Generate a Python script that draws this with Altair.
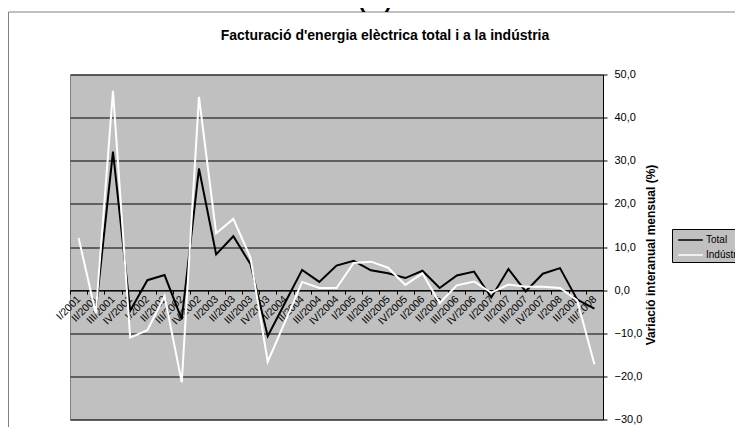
import altair as alt
import pandas as pd

quarters = [
    "I/2001", "II/2001", "III/2001", "IV/2001",
    "I/2002", "II/2002", "III/2002", "IV/2002",
    "I/2003", "II/2003", "III/2003", "IV/2003",
    "I/2004", "II/2004", "III/2004", "IV/2004",
    "I/2005", "II/2005", "III/2005", "IV/2005",
    "I/2006", "II/2006", "III/2006", "IV/2006",
    "I/2007", "II/2007", "III/2007", "IV/2007",
    "I/2008", "II/2008", "III/2008",
]
total = [None, -4.8, 32.1, -4.8, 2.3, 3.5, -6.8, 28.2, 8.3, 12.5, 6.0,
         -10.7, -3.0, 4.7, 1.9, 5.7, 6.8, 4.6, 3.9, 2.8, 4.5,
         0.5, 3.4, 4.3, -1.7, 4.9, -0.3, 3.8, 5.1, -2.2, -4.3]
industria = [12.1, -5.4, 46.2, -11.0, -9.3, -1.4, -21.4, 44.8, 13.2, 16.5, 7.5,
             -16.6, -7.4, 1.9, 0.5, 0.5, 6.3, 6.6, 5.2, 1.2, 3.9,
             -3.0, 1.1, 2.0, -0.6, 1.3, 0.8, 0.8, 0.5, -2.4, -17.2]
series_names = ["Total", "Indústria"]
series_colors = ["#000000", "#ffffff"]
main_title = "(%)"
sub_title = "Facturació d'energia elèctrica total i a la indústria"

rows = []
for name, vals in zip(series_names, [total, industria]):
    for q, v in zip(quarters, vals):
        rows.append({"quarter": q, "series": name, "value": v})
df = pd.DataFrame(rows)

FONT = "Liberation Sans"
W, H = 533, 345
Y_MIN, Y_MAX = -30, 50

x_enc = alt.X(
    "quarter:N",
    sort=quarters,
    bandPosition=0.5,
    scale=alt.Scale(type="band", paddingInner=0, paddingOuter=0),
    axis=alt.Axis(
        title=None, orient="bottom", offset=-H * (0 - Y_MIN) / (Y_MAX - Y_MIN),
        labelAngle=-45, labelAlign="right", labelBaseline="middle",
        labelFont=FONT, labelFontSize=10.5, labelColor="black", labelPadding=3,
        labelOverlap=False, tickBand="extent", tickSize=4, tickColor="black",
        domainColor="black", domainWidth=1, grid=False,
    ),
)
y_enc = alt.Y(
    "value:Q",
    scale=alt.Scale(domain=[Y_MIN, Y_MAX], nice=False, zero=False),
    axis=alt.Axis(
        orient="right", values=list(range(Y_MIN, Y_MAX + 1, 10)),
        labelExpr="replace(format(datum.value, '.1f'), '.', ',')",
        labelFont=FONT, labelFontSize=11, labelColor="black", labelPadding=7,
        tickSize=4, tickColor="black", domainColor="black",
        gridColor="black", gridWidth=1, gridOpacity=1,
        title="Variació interanual mensual (%)", titleFont=FONT, titleFontSize=12,
        titleFontWeight="bold", titleColor="black", titleAngle=270,
        titleX=47, titleY=180, titleAlign="center", titleBaseline="middle",
    ),
)
color_enc = alt.Color(
    "series:N",
    scale=alt.Scale(domain=series_names, range=series_colors),
    legend=alt.Legend(
        title=None, orient="none", legendX=602, legendY=154.5,
        direction="vertical", fillColor="#c0c0c0", strokeColor="black",
        padding=1.5, symbolType="M-1.45,0H1.45", symbolSize=289, symbolStrokeWidth=1.5,
        symbolOffset=7.5, labelFont=FONT, labelFontSize=10, labelColor="black",
        labelOffset=6, rowPadding=0,
    ),
)

base = alt.Chart(df).mark_line(strokeWidth=2).encode(x=x_enc, y=y_enc, color=color_enc)
black_line = base.transform_filter(alt.datum.series == "Total")
white_line = base.transform_filter(alt.datum.series == "Indústria")

one = pd.DataFrame({"a": [0]})
frame_top = alt.Chart(one).mark_rule(color="#808080", strokeWidth=1).encode(
    x=alt.value(-61.5), x2=alt.value(760), y=alt.value(-62.5))
frame_left = alt.Chart(one).mark_rule(color="#808080", strokeWidth=1).encode(
    x=alt.value(-61.5), y=alt.value(-62.5), y2=alt.value(600))

title_txt = alt.Chart(pd.DataFrame({"t": [main_title]})).mark_text(
    font=FONT, fontSize=22, fontWeight="bold", color="black", align="center", baseline="alphabetic"
).encode(text="t:N", x=alt.value(305), y=alt.value(-67.5))
subtitle_txt = alt.Chart(pd.DataFrame({"t": [sub_title]})).mark_text(
    font=FONT, fontSize=14, fontWeight="bold", color="black", align="center", baseline="alphabetic"
).encode(text="t:N", x=alt.value(315), y=alt.value(-35))

chart = alt.layer(black_line, white_line, frame_top, frame_left, title_txt, subtitle_txt).properties(
    width=W, height=H,
    padding={"left": 62, "top": 66.5, "right": 132, "bottom": 7.5},
    autosize=alt.AutoSizeParams(type="none"),
).configure(background="white").configure_view(fill="#c0c0c0", stroke="#808080", strokeWidth=1)

chart.save("out.html", embed_options={"renderer": "svg", "actions": False})
